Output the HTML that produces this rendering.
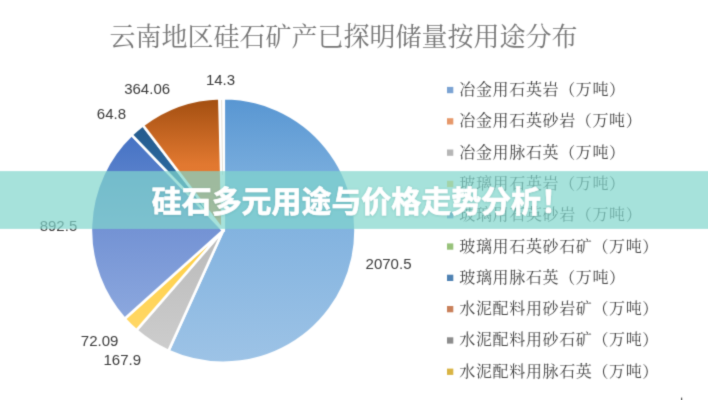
<!DOCTYPE html>
<html lang="zh-CN"><head><meta charset="utf-8"><title>硅石多元用途与价格走势分析</title>
<style>
html,body{margin:0;padding:0;background:#fff}
body{width:708px;height:400px;position:relative;overflow:hidden;font-family:"Liberation Sans",sans-serif}
svg{position:absolute;left:0;top:0;display:block}
.t{position:absolute;margin:0;padding:0;color:transparent;white-space:nowrap;font-weight:normal;font-family:"Liberation Serif",serif;pointer-events:none}
ul.lg{margin:0;padding:0;list-style:none}
ul.lg li{font-size:16.63px;line-height:16.63px}
.bn{font-family:"Liberation Sans",sans-serif;font-weight:bold}
</style></head>
<body>
<svg width="708" height="400" viewBox="0 0 708 400" role="img" aria-label="云南地区硅石矿产已探明储量按用途分布">
<defs>
<linearGradient id="g0" gradientUnits="userSpaceOnUse" x1="0" y1="98.1" x2="0" y2="362.8"><stop offset="0" stop-color="#5896D2"/><stop offset="0.3" stop-color="#79ADDD"/><stop offset="1" stop-color="#9DC3E6"/></linearGradient>
<linearGradient id="g2" gradientUnits="userSpaceOnUse" x1="0" y1="230.4" x2="0" y2="350.9"><stop offset="0" stop-color="#B9B9B9"/><stop offset="1" stop-color="#CDCDCD"/></linearGradient>
<linearGradient id="g3" gradientUnits="userSpaceOnUse" x1="0" y1="230.4" x2="0" y2="330.3"><stop offset="0" stop-color="#FFCF40"/><stop offset="1" stop-color="#FFD766"/></linearGradient>
<linearGradient id="g4" gradientUnits="userSpaceOnUse" x1="0" y1="134.9" x2="0" y2="318.8"><stop offset="0" stop-color="#4472C4"/><stop offset="0.5" stop-color="#7392D4"/><stop offset="1" stop-color="#8CA8DE"/></linearGradient>
<linearGradient id="g6" gradientUnits="userSpaceOnUse" x1="0" y1="125.3" x2="0" y2="230.4"><stop offset="0" stop-color="#235A8C"/><stop offset="1" stop-color="#3679B5"/></linearGradient>
<linearGradient id="g7" gradientUnits="userSpaceOnUse" x1="0" y1="98.2" x2="0" y2="230.4"><stop offset="0" stop-color="#A24E10"/><stop offset="0.5" stop-color="#E17830"/><stop offset="1" stop-color="#EE8238"/></linearGradient>
<linearGradient id="g8" gradientUnits="userSpaceOnUse" x1="0" y1="98.1" x2="0" y2="230.4"><stop offset="0" stop-color="#fff"/><stop offset="1" stop-color="#fff"/></linearGradient>
<filter id="sh" x="-5%" y="-20%" width="110%" height="140%"><feDropShadow dx="0" dy="0.5" stdDeviation="0.8" flood-color="#2a7a78" flood-opacity="0.3"/></filter>
<filter id="bl" x="0" y="0" width="708" height="400" filterUnits="userSpaceOnUse" color-interpolation-filters="sRGB"><feConvolveMatrix order="3" kernelMatrix="0.0192 0.1001 0.0192 0.1001 0.5228 0.1001 0.0192 0.1001 0.0192" edgeMode="duplicate" preserveAlpha="true"/></filter>
</defs>
<g filter="url(#bl)">
<rect x="-10" y="-10" width="728" height="420" fill="#fff"/>
<g><path d="M223.20 230.45L223.20 98.15A132.30 132.30 0 1 1 168.48 350.91Z" fill="url(#g0)" stroke="#fff" stroke-width="2.60" stroke-linejoin="round"/><path d="M223.20 230.45L168.48 350.91A132.30 132.30 0 0 1 136.39 330.29Z" fill="url(#g2)" stroke="#fff" stroke-width="2.60" stroke-linejoin="round"/><path d="M223.20 230.45L136.39 330.29A132.30 132.30 0 0 1 124.69 318.76Z" fill="url(#g3)" stroke="#fff" stroke-width="2.60" stroke-linejoin="round"/><path d="M223.20 230.45L124.69 318.76A132.30 132.30 0 0 1 131.70 134.89Z" fill="url(#g4)" stroke="#fff" stroke-width="2.60" stroke-linejoin="round"/><path d="M223.20 230.45L131.70 134.89A132.30 132.30 0 0 1 142.92 125.29Z" fill="url(#g6)" stroke="#fff" stroke-width="2.60" stroke-linejoin="round"/><path d="M223.20 230.45L142.92 125.29A132.30 132.30 0 0 1 219.94 98.19Z" fill="url(#g7)" stroke="#fff" stroke-width="2.60" stroke-linejoin="round"/><path d="M223.20 230.45L219.94 98.19A132.30 132.30 0 0 1 223.20 98.15Z" fill="#fff" stroke="#fff" stroke-width="3.80" stroke-linejoin="round"/><path d="M221.59 100.06L222.52 174.89" stroke="#d9d3c3" stroke-width="0.7" stroke-linecap="butt"/></g>
<g font-family="'Liberation Sans', sans-serif" font-size="15" fill="#3a3a3a"><text x="365.6" y="268.8">2070.5</text><text x="103.5" y="365.2">167.9</text><text x="80.8" y="346.4">72.09</text><text x="39.7" y="230.5">892.5</text><text x="96.8" y="119.1">64.8</text><text x="124.2" y="93.6">364.06</text><text x="205.9" y="85.3">14.3</text></g>
<text x="109.4" y="46" font-size="26" fill="#767676" font-family="'Liberation Serif', 'Noto Serif CJK SC', serif">云南地区硅石矿产已探明储量按用途分布</text>
<rect x="447.0" y="86.9" width="6.3" height="6.3" fill="#7BA3D3"/>
<g font-family="'Liberation Serif', 'Noto Serif CJK SC', serif" font-size="16" letter-spacing="0.63" fill="#444444">
<text x="459.37" y="95.15">冶金用石英岩（万吨）</text>
<text x="459.37" y="126.44">冶金用石英砂岩（万吨）</text>
<text x="459.37" y="157.73">冶金用脉石英（万吨）</text>
<text x="459.37" y="189.02">玻璃用石英岩（万吨）</text>
<text x="459.37" y="220.31">玻璃用石英砂岩（万吨）</text>
<text x="459.37" y="251.60">玻璃用石英砂石矿（万吨）</text>
<text x="459.37" y="282.89">玻璃用脉石英（万吨）</text>
<text x="459.37" y="314.18">水泥配料用砂岩矿（万吨）</text>
<text x="459.37" y="345.47">水泥配料用砂石矿（万吨）</text>
<text x="459.37" y="376.76">水泥配料用脉石英（万吨）</text>
</g>
<rect x="447.0" y="118.2" width="6.3" height="6.3" fill="#E6986A"/>
<rect x="447.0" y="149.5" width="6.3" height="6.3" fill="#B6B6B6"/>
<rect x="447.0" y="180.8" width="6.3" height="6.3" fill="#F0CB55"/>
<rect x="447.0" y="212.1" width="6.3" height="6.3" fill="#708FCB"/>
<rect x="447.0" y="243.4" width="6.3" height="6.3" fill="#97C27A"/>
<rect x="447.0" y="274.7" width="6.3" height="6.3" fill="#4F82B3"/>
<rect x="447.0" y="306.0" width="6.3" height="6.3" fill="#C9805A"/>
<rect x="447.0" y="337.3" width="6.3" height="6.3" fill="#8C8C8C"/>
<rect x="447.0" y="368.6" width="6.3" height="6.3" fill="#D9B444"/>
<rect x="681" y="397.6" width="1.2" height="2.4" fill="#555"/>
<rect x="-10" y="171.10" width="728" height="57.80" fill="#80d6cc" fill-opacity="0.7"/>
<text x="151.8" y="212.1" font-size="29.95" font-weight="bold" fill="#fff" stroke="#fff" stroke-width="0.69" stroke-linejoin="round" filter="url(#sh)" font-family="'Liberation Sans', 'Noto Sans CJK SC', sans-serif">硅石多元用途与价格走势分析！</text>
</g>
</svg>
<h1 class="t" style="left:109.4px;top:23.1px;font-size:26.00px;line-height:26.00px;width:470.0px">云南地区硅石矿产已探明储量按用途分布</h1>
<ul class="lg">
<li class="t" style="left:459.2px;top:81.4px">冶金用石英岩（万吨）</li>
<li class="t" style="left:459.2px;top:112.7px">冶金用石英砂岩（万吨）</li>
<li class="t" style="left:459.2px;top:144.0px">冶金用脉石英（万吨）</li>
<li class="t" style="left:459.2px;top:175.3px">玻璃用石英岩（万吨）</li>
<li class="t" style="left:459.2px;top:206.6px">玻璃用石英砂岩（万吨）</li>
<li class="t" style="left:459.2px;top:237.9px">玻璃用石英砂石矿（万吨）</li>
<li class="t" style="left:459.2px;top:269.2px">玻璃用脉石英（万吨）</li>
<li class="t" style="left:459.2px;top:300.5px">水泥配料用砂岩矿（万吨）</li>
<li class="t" style="left:459.2px;top:331.8px">水泥配料用砂石矿（万吨）</li>
<li class="t" style="left:459.2px;top:363.1px">水泥配料用脉石英（万吨）</li>
</ul>
<div class="t bn" style="left:151.8px;top:185.7px;font-size:29.95px;line-height:29.95px">硅石多元用途与价格走势分析！</div>
</body></html>
